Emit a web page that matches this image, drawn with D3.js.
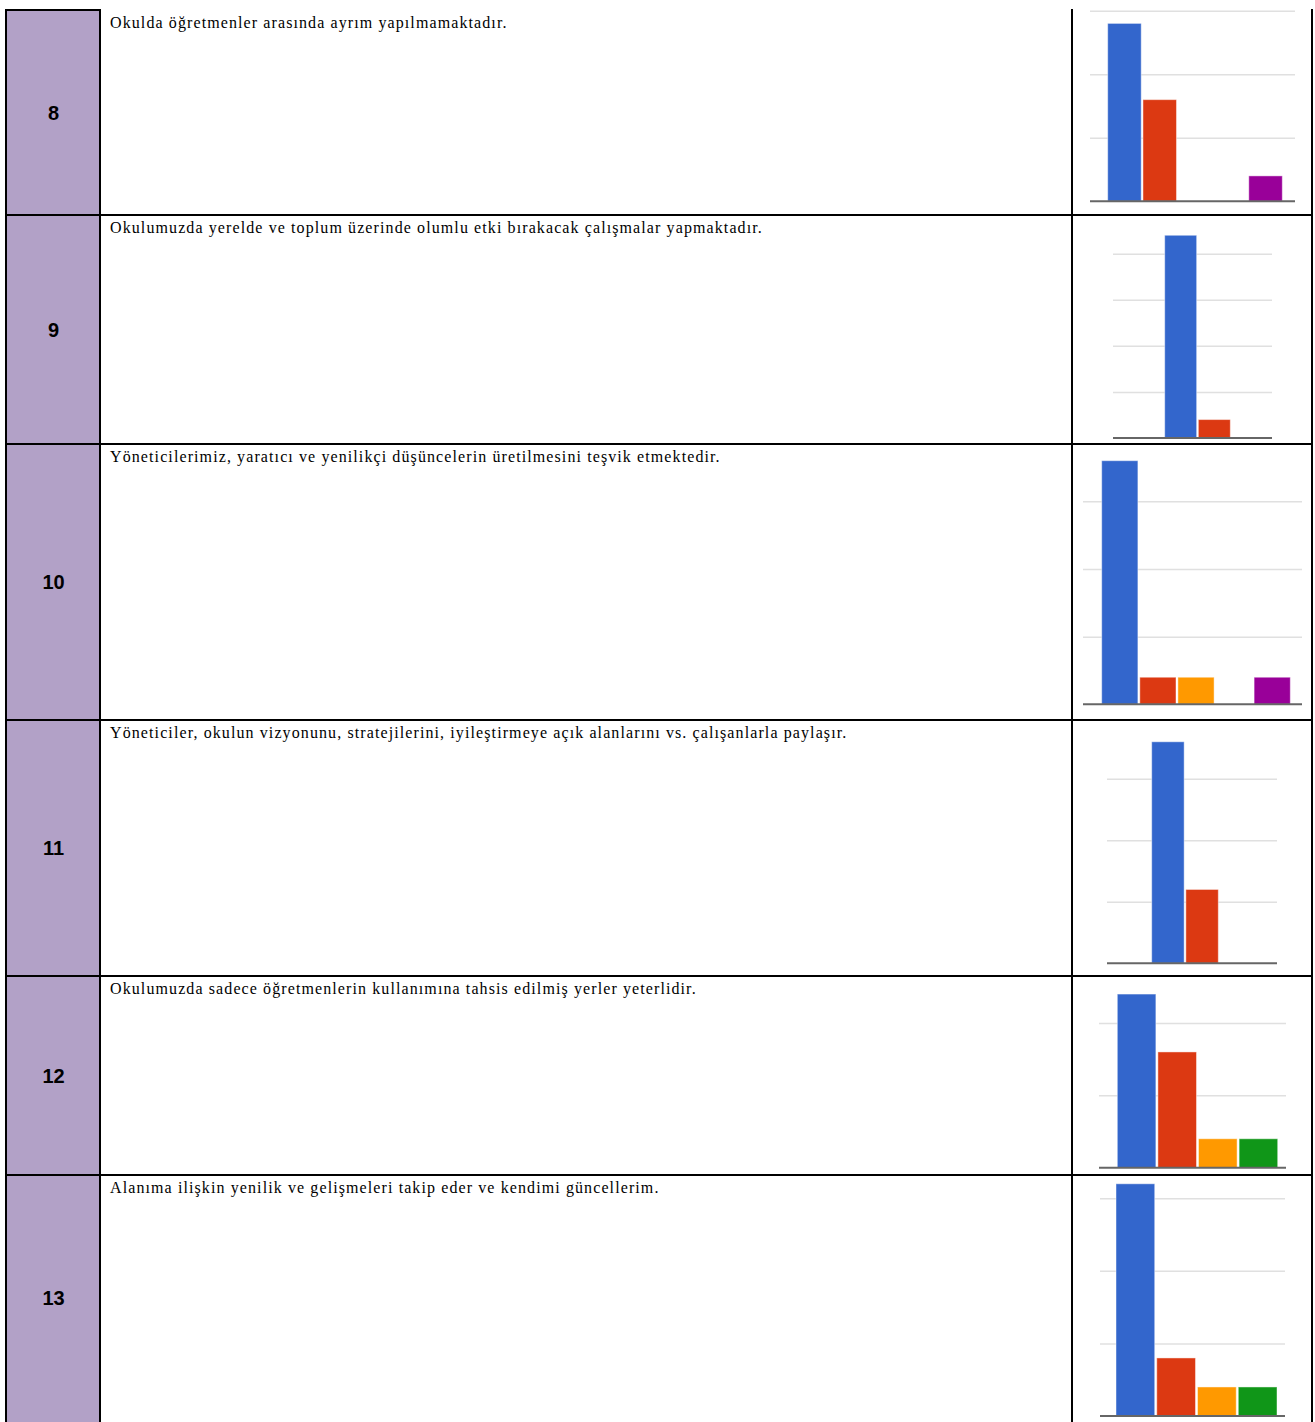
<!DOCTYPE html>
<html lang="tr">
<head>
<meta charset="utf-8">
<title>Anket maddeleri 8-13</title>
<script src="https://d3js.org/d3.v7.min.js"></script>
<style>
    body { margin: 0; background: #ffffff; }
    .num { font-family: "Liberation Sans", Arial, sans-serif; font-weight: bold; font-size: 20px; fill: #000; }
    .stmt { font-family: "Liberation Serif", "Times New Roman", serif; font-size: 16px; letter-spacing: 1.1px; fill: #000; }
    .grid line { stroke: #e0e0e0; stroke-width: 1.5; }
    .grid .domain { display: none; }
    .grid text { display: none; }
    .bar { stroke: #ffffff; stroke-opacity: 0.45; stroke-width: 1; }
</style>
</head>
<body>
<svg width="1315" height="1422"></svg>
<script>
// ---- data ----
var rowNumbers = ["8", "9", "10", "11", "12", "13"];
var statements = [
    "Okulda öğretmenler arasında ayrım yapılmamaktadır.",
    "Okulumuzda yerelde ve toplum üzerinde olumlu etki bırakacak çalışmalar yapmaktadır.",
    "Yöneticilerimiz, yaratıcı ve yenilikçi düşüncelerin üretilmesini teşvik etmektedir.",
    "Yöneticiler, okulun vizyonunu, stratejilerini, iyileştirmeye açık alanlarını vs. çalışanlarla paylaşır.",
    "Okulumuzda sadece öğretmenlerin kullanımına tahsis edilmiş yerler yeterlidir.",
    "Alanıma ilişkin yenilik ve gelişmeleri takip eder ve kendimi güncellerim."
];
// answer options shown in each small chart (colour follows the option)
var options8  = [1, 2, 3, 4, 5];
var options9  = [1, 2];
var options10 = [1, 2, 3, 4, 5];
var options11 = [1, 2];
var options12 = [1, 2, 3, 4];
var options13 = [1, 2, 3, 4];
// response counts
var counts8  = [14, 8, 0, 0, 2];
var counts9  = [22, 2];
var counts10 = [18, 2, 2, 0, 2];
var counts11 = [18, 6];
var counts12 = [12, 8, 2, 2];
var counts13 = [16, 4, 2, 2];
// gridline values
var ticks8  = [0, 5, 10, 15];
var ticks9  = [0, 5, 10, 15, 20];
var ticks10 = [0, 5, 10, 15];
var ticks11 = [0, 5, 10, 15];
var ticks12 = [0, 5, 10];
var ticks13 = [0, 5, 10, 15];

var optionColors = {1: "#3366cc", 2: "#dc3912", 3: "#ff9900", 4: "#109618", 5: "#990099"};

// ---- layout ----
var rowEdges = [10, 215, 444, 720, 976, 1175, 1422];
var colX = {left: 6, num: 100, chart: 1072, right: 1312};

// per chart: grid extent, baseline, y of top gridline, first bar left / last bar right
var chartBoxes = [
    {gx0: 1090, gx1: 1295, base: 201.3, top: 10.7,  bx0: 1107.7, bx1: 1282.3},
    {gx0: 1113, gx1: 1272, base: 438,   top: 253.7, bx0: 1164.7, bx1: 1230.3},
    {gx0: 1083, gx1: 1302, base: 704.3, top: 501.3, bx0: 1101.7, bx1: 1290.3},
    {gx0: 1107, gx1: 1277, base: 963.3, top: 778.7, bx0: 1151.7, bx1: 1218.3},
    {gx0: 1099, gx1: 1286, base: 1167.7, top: 1023, bx0: 1117.3, bx1: 1277.7},
    {gx0: 1100, gx1: 1285, base: 1416,  top: 1198.3, bx0: 1116, bx1: 1277}
];

var charts = [
    {opts: options8,  counts: counts8,  ticks: ticks8},
    {opts: options9,  counts: counts9,  ticks: ticks9},
    {opts: options10, counts: counts10, ticks: ticks10},
    {opts: options11, counts: counts11, ticks: ticks11},
    {opts: options12, counts: counts12, ticks: ticks12},
    {opts: options13, counts: counts13, ticks: ticks13}
];

var svg = d3.select("svg");
svg.append("rect").attr("width", 1315).attr("height", 1422).attr("fill", "#fff");

// purple number cells + statement text
rowNumbers.forEach(function(n, i) {
    var y0 = rowEdges[i], y1 = rowEdges[i + 1];
    svg.append("rect")
        .attr("x", colX.left).attr("y", y0)
        .attr("width", colX.num - colX.left).attr("height", y1 - y0)
        .attr("fill", "#b2a1c7");
    svg.append("text")
        .attr("class", "num")
        .attr("x", (colX.left + colX.num) / 2 + 0.5)
        .attr("y", Math.min((y0 + y1) / 2, 1298) + 7)
        .attr("text-anchor", "middle")
        .text(n);
    svg.append("text")
        .attr("class", "stmt")
        .attr("x", 110)
        .attr("y", y0 + 17.5)
        .text(statements[i]);
});

// small bar charts
charts.forEach(function(c, i) {
    var box = chartBoxes[i];
    var g = svg.append("g");

    var x = d3.scaleBand()
        .domain(c.opts)
        .range([box.bx0, box.bx1])
        .paddingInner(0.05)
        .paddingOuter(0);

    var tmax = c.ticks[c.ticks.length - 1];
    var y = d3.scaleLinear().domain([0, tmax]).range([box.base, box.top]);

    g.append("g")
        .attr("class", "grid")
        .attr("transform", "translate(" + box.gx0 + ",0)")
        .call(d3.axisLeft(y).tickValues(c.ticks.slice(1)).tickSize(-(box.gx1 - box.gx0)).tickSizeOuter(0));

    g.selectAll(".bar")
        .data(c.opts.map(function(o, k) { return {opt: o, v: c.counts[k]}; }).filter(function(d) { return d.v > 0; }))
        .enter().append("rect")
        .attr("class", "bar")
        .attr("x", function(d) { return x(d.opt); })
        .attr("y", function(d) { return y(d.v); })
        .attr("width", x.bandwidth())
        .attr("height", function(d) { return y(0) - y(d.v); })
        .attr("fill", function(d) { return optionColors[d.opt]; });

    g.append("line")
        .attr("x1", box.gx0).attr("x2", box.gx1)
        .attr("y1", y(0)).attr("y2", y(0))
        .attr("stroke", "#666").attr("stroke-width", 2);
});

// table rules
var rules = svg.append("g").attr("stroke", "#000").attr("stroke-width", 2);
rules.append("line").attr("x1", colX.left - 1).attr("x2", colX.num + 1).attr("y1", rowEdges[0]).attr("y2", rowEdges[0]);
[colX.left, colX.num].forEach(function(xv) {
    rules.append("line").attr("x1", xv).attr("x2", xv).attr("y1", rowEdges[0] - 1).attr("y2", 1422);
});
[colX.chart, colX.right].forEach(function(xv) {
    rules.append("line").attr("x1", xv).attr("x2", xv).attr("y1", 9).attr("y2", 1422);
});
rowEdges.slice(1, -1).forEach(function(yv) {
    rules.append("line").attr("x1", colX.left - 1).attr("x2", colX.right + 1).attr("y1", yv).attr("y2", yv);
});
</script>
</body>
</html>
